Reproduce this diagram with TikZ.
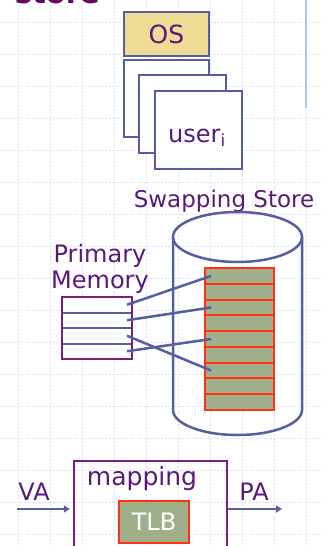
\documentclass[tikz,border=0pt]{standalone}
\usepackage{fontspec}
\setmainfont{DejaVu Sans}
\usetikzlibrary{arrows.meta,positioning}

\definecolor{lineblue}{RGB}{85,95,160}
\definecolor{txtpurple}{RGB}{90,25,120}
\definecolor{titlepurple}{RGB}{95,10,105}
\definecolor{boxpurple}{RGB}{122,30,120}
\definecolor{oskhaki}{RGB}{238,220,148}
\definecolor{cellgreen}{RGB}{160,176,138}
\definecolor{cellred}{RGB}{255,50,20}
\definecolor{gridblue}{RGB}{218,224,248}
\definecolor{barblue}{RGB}{175,195,240}

\tikzset{
  gridline/.style={gridblue,line width=0.8pt,dash pattern=on 2pt off 1.5pt},
  lbl/.style={text=txtpurple,inner sep=0pt,font=\fontsize{24}{26}\selectfont},
  osbox/.style={draw=lineblue,line width=2pt,fill=oskhaki,minimum width=85pt,minimum height=44pt,inner sep=0pt},
  userbox/.style={draw=lineblue,line width=2pt,fill=white,minimum width=87pt,minimum height=78pt,inner sep=0pt},
  memrow/.style={fill=white,minimum width=70pt,minimum height=15.5pt,inner sep=0pt,outer sep=0pt},
  rowline/.style={lineblue,line width=2pt},
  membox/.style={boxpurple,line width=2.6pt},
  cell/.style={fill=cellgreen,minimum width=69pt,minimum height=15.75pt,inner sep=0pt,outer sep=0pt},
  cellline/.style={cellred,line width=2pt},
  cylline/.style={lineblue,line width=2.5pt},
  link/.style={lineblue,line width=2.5pt},
  mapbox/.style={draw=boxpurple,line width=2.4pt,minimum width=153pt,minimum height=140pt,inner sep=0pt},
  tlbbox/.style={draw=cellred,line width=1.6pt,fill=cellgreen,text=white,minimum width=70pt,minimum height=42pt,inner sep=0pt,font=\fontsize{24}{26}\selectfont},
  flow/.style={lineblue,line width=2pt,-{Triangle[length=6pt,width=7pt]}},
}

\begin{document}
\begin{tikzpicture}[x=1pt,y=-1pt]
\useasboundingbox (0,0) rectangle (322,546);

%grid
\path [gridline] (0,22) edge (322,22);
\path [gridline] (0,54) edge (322,54);
\path [gridline] (0,86) edge (322,86);
\path [gridline] (0,118) edge (322,118);
\path [gridline] (0,150) edge (322,150);
\path [gridline] (0,182) edge (322,182);
\path [gridline] (0,214) edge (322,214);
\path [gridline] (0,246) edge (322,246);
\path [gridline] (0,278) edge (322,278);
\path [gridline] (0,310) edge (322,310);
\path [gridline] (0,342) edge (322,342);
\path [gridline] (0,374) edge (322,374);
\path [gridline] (0,406) edge (322,406);
\path [gridline] (0,438) edge (322,438);
\path [gridline] (0,470) edge (322,470);
\path [gridline] (0,502) edge (322,502);
\path [gridline] (0,534) edge (322,534);

\path [gridline] (18,0) edge (18,546);
\path [gridline] (50,0) edge (50,546);
\path [gridline] (82,0) edge (82,546);
\path [gridline] (114,0) edge (114,546);
\path [gridline] (146,0) edge (146,546);
\path [gridline] (178,0) edge (178,546);
\path [gridline] (210,0) edge (210,546);
\path [gridline] (242,0) edge (242,546);
\path [gridline] (274,0) edge (274,546);
\path [gridline] (306,0) edge (306,546);

%title and bar
\node[anchor=base east,inner sep=0pt,text=titlepurple,font=\fontsize{29}{30}\selectfont\bfseries] (title) at (100,4) {store};
\draw[barblue,line width=2.5pt] (306,0) -- (306,108);

%OS and users
\node[osbox,text=txtpurple,font=\fontsize{25}{27}\selectfont] (os) at (166.5,34) {OS};
\node[userbox,minimum width=85pt,minimum height=77pt] (userA) at (166.5,98.5) {};
\node[userbox] (userB) at (182.5,114) {};
\node[userbox] (userC) at (198.5,130) {};
\node[lbl,anchor=base] (useri) at (197,142) {user\textsubscript{i}};

%swapping store
\node[lbl,anchor=base,font=\fontsize{23}{25}\selectfont] (swaplbl) at (224,207) {Swapping Store};
\draw[cylline] (237.5,237) ellipse [x radius=64.5pt, y radius=25pt];
\draw[cylline] (173,237) -- (173,410) arc[start angle=180, end angle=360, x radius=64.5pt, y radius=25pt] -- (302,237);

\node[cell] (cell1) at (239.5,276) {};
\node[cell,below=0pt of cell1] (cell2) {};
\node[cell,below=0pt of cell2] (cell3) {};
\node[cell,below=0pt of cell3] (cell4) {};
\node[cell,below=0pt of cell4] (cell5) {};
\node[cell,below=0pt of cell5] (cell6) {};
\node[cell,below=0pt of cell6] (cell7) {};
\node[cell,below=0pt of cell7] (cell8) {};
\node[cell,below=0pt of cell8] (cell9) {};
\draw[cellline] (cell1.south west) -- (cell1.south east);
\draw[cellline] (cell2.south west) -- (cell2.south east);
\draw[cellline] (cell3.south west) -- (cell3.south east);
\draw[cellline] (cell4.south west) -- (cell4.south east);
\draw[cellline] (cell5.south west) -- (cell5.south east);
\draw[cellline] (cell6.south west) -- (cell6.south east);
\draw[cellline] (cell7.south west) -- (cell7.south east);
\draw[cellline] (cell8.south west) -- (cell8.south east);
\draw[cellline] (cell1.north west) rectangle (cell9.south east);

%primary memory
\node[lbl,align=center] (memlbl) at (100,269) {Primary\\Memory};
\node[memrow] (mem1) at (97,304.75) {};
\node[memrow,below=0pt of mem1] (mem2) {};
\node[memrow,below=0pt of mem2] (mem3) {};
\node[memrow,below=0pt of mem3] (mem4) {};
\draw[rowline] (mem1.south west) -- (mem1.south east);
\draw[rowline] (mem2.south west) -- (mem2.south east);
\draw[rowline] (mem3.south west) -- (mem3.south east);
\draw[membox] (mem1.north west) rectangle (mem4.south east);

\draw[link] ([xshift=-5pt]mem1.east) -- ([xshift=6pt]cell1.west);
\draw[link] ([xshift=-5pt]mem2.east) -- ([xshift=6pt]cell3.west);
\draw[link] ([xshift=-5pt]mem3.east) -- ([xshift=6pt]cell7.west);
\draw[link] ([xshift=-5pt]mem4.east) -- ([xshift=6pt]cell5.west);

%mapping
\node[mapbox] (map) at (150.5,531) {};
\node[lbl,anchor=base,font=\fontsize{25}{27}\selectfont] (maplbl) at (142,485) {mapping};
\node[tlbbox] (tlb) at (154,522) {TLB};
\coordinate (vain) at (17,509);
\coordinate (paout) at (282,509);
\draw[flow,shorten >=3pt] (vain) -- (vain -| map.west);
\draw[flow] (paout -| map.east) -- (paout);
\node[lbl,anchor=base] (va) at (34,500) {VA};
\node[lbl,anchor=base] (pa) at (254,500) {PA};
\end{tikzpicture}
\end{document}
